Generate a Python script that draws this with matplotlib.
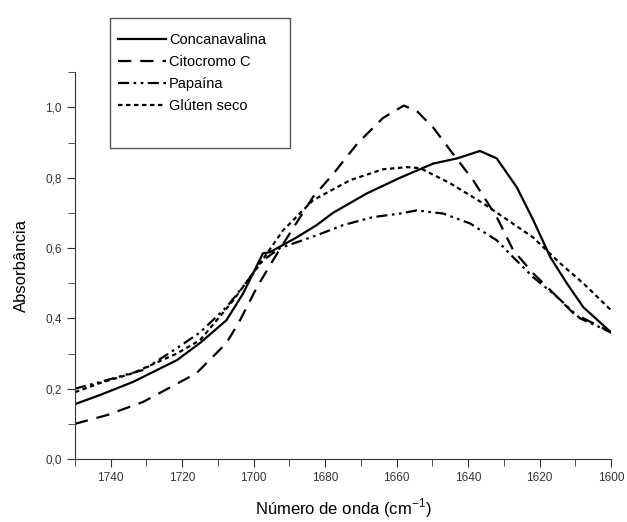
import matplotlib.pyplot as plt
from matplotlib.patches import Rectangle
from matplotlib.ticker import MultipleLocator, FuncFormatter

plt.rcParams['font.family'] = ['Liberation Sans', 'DejaVu Sans']
plt.rcParams['mathtext.fontset'] = 'custom'
plt.rcParams['mathtext.rm'] = 'Liberation Sans'

# Concanavalina
con_x = [1750, 1743, 1733.8, 1721.5, 1715, 1707.6, 1703, 1697.4, 1695.5, 1688, 1682.4,
         1677.8, 1668.4, 1659, 1654.4, 1649.8, 1643, 1636.7, 1632, 1626.4, 1621.8,
         1617, 1612.4, 1607.8, 1600]
con_y = [0.156, 0.182, 0.219, 0.281, 0.33, 0.395, 0.47, 0.585, 0.588, 0.63, 0.665,
         0.70, 0.755, 0.80, 0.82, 0.84, 0.855, 0.876, 0.855, 0.773, 0.68,
         0.574, 0.50, 0.432, 0.36]

# Citocromo C
cit_x = [1750, 1741, 1731, 1716, 1707.6, 1703.8, 1699, 1694.6, 1690, 1683.4, 1677.8,
         1671, 1663.8, 1658, 1654.4, 1649.8, 1645, 1638.6, 1632, 1627.4, 1621.8,
         1616, 1610.6, 1600]
cit_y = [0.10, 0.125, 0.162, 0.244, 0.33, 0.395, 0.49, 0.565, 0.64, 0.745, 0.81,
         0.897, 0.97, 1.005, 0.99, 0.943, 0.878, 0.793, 0.688, 0.594, 0.528,
         0.47, 0.415, 0.36]

# Papaina
pap_x = [1750, 1743, 1731, 1721.5, 1715, 1707.6, 1703, 1697.4, 1692.6, 1682.4, 1675,
         1666.6, 1659, 1654.4, 1647, 1639.5, 1632, 1627.4, 1621.8, 1615, 1608.7, 1600]
pap_y = [0.20, 0.219, 0.253, 0.315, 0.36, 0.432, 0.49, 0.565, 0.60, 0.636, 0.665,
         0.688, 0.698, 0.707, 0.698, 0.67, 0.622, 0.574, 0.517, 0.46, 0.40, 0.36]

# Gluten seco
glu_x = [1750, 1743, 1733.8, 1721.5, 1715, 1705.8, 1699, 1691.8, 1683.4, 1673, 1663.8,
         1657, 1653.4, 1645, 1635.8, 1629, 1621.8, 1614.3, 1607.8, 1600]
glu_y = [0.19, 0.216, 0.244, 0.30, 0.338, 0.45, 0.545, 0.65, 0.736, 0.793, 0.824,
         0.83, 0.827, 0.784, 0.727, 0.68, 0.63, 0.557, 0.50, 0.423]

W, H = 627, 522
fig = plt.figure(figsize=(W / 100, H / 100), dpi=100)
ax = fig.add_axes([0.1196, 0.1207, 0.855, 0.741])

l1, = ax.plot(con_x, con_y, color='black', lw=1.6, linestyle='-')
l2, = ax.plot(cit_x, cit_y, color='black', lw=1.6, linestyle=(0, (6, 4)))
l3, = ax.plot(pap_x, pap_y, color='black', lw=1.6, linestyle=(0, (5, 2, 1.2, 2, 1.2, 2)))
l4, = ax.plot(glu_x, glu_y, color='black', lw=1.6, linestyle=(0, (2, 1.6)))

ax.set_xlim(1750, 1600)
ax.set_ylim(0, 1.1)
ax.xaxis.set_major_locator(MultipleLocator(20))
ax.xaxis.set_minor_locator(MultipleLocator(10))
ax.yaxis.set_major_locator(MultipleLocator(0.2))
ax.yaxis.set_minor_locator(MultipleLocator(0.1))
ax.yaxis.set_major_formatter(FuncFormatter(lambda v, p: ('%.1f' % v).replace('.', ',')))
ax.xaxis.set_major_formatter(FuncFormatter(lambda v, p: '%d' % v if v < 1750 else ''))

for s in ['top', 'right']:
    ax.spines[s].set_visible(False)
for s in ['left', 'bottom']:
    ax.spines[s].set_color('#333333')
ax.tick_params(which='both', direction='out', color='#333333', labelsize=8.5, labelcolor='#333333')
ax.tick_params(which='major', length=6)
ax.tick_params(which='minor', length=5)

fig.text(343 / W, 1 - 508 / H, 'Número de onda (cm$^{-1}$)', fontsize=12,
         ha='center', va='center')
ax.set_ylabel('Absorbância', fontsize=12, labelpad=12)

# legend box with empty space at the bottom
fig.patches.append(Rectangle((110 / W, 1 - 148 / H), 180 / W, 130 / H,
                             transform=fig.transFigure, fill=False,
                             edgecolor='#555555', lw=1.0))
leg = fig.legend([l1, l2, l3, l4], ['Concanavalina', 'Citocromo C', 'Papaína', 'Glúten seco'],
                 loc='upper left', bbox_to_anchor=(118 / W, 1 - 33 / H),
                 fontsize=10.5, frameon=False, handlelength=3.3,
                 handletextpad=0.2, borderpad=0, labelspacing=0.55,
                 borderaxespad=0)

fig.savefig('out.png', dpi=100)
